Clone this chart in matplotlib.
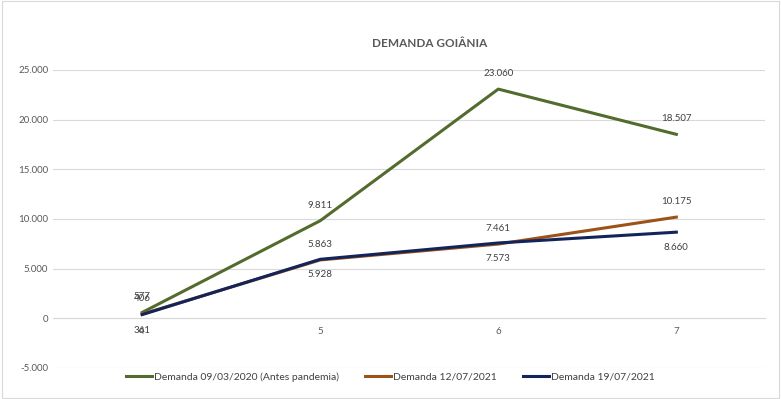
import matplotlib.pyplot as plt

plt.rcParams['font.family'] = ['Lato', 'DejaVu Sans']

categorias = ["4", "5", "6", "7"]
antes_pandemia = [577, 9811, 23060, 18507]
demanda_12_07 = [406, 5863, 7461, 10175]
demanda_19_07 = [361, 5928, 7573, 8660]

cor_verde = "#536B2C"
cor_laranja = "#9C5318"
cor_azul = "#13245A"
cinza = "#595959"


def fmt(v):
    return f"{v:,}".replace(",", ".")


fig = plt.figure(figsize=(7.81, 3.99), dpi=100)
ax = fig.add_axes([0.068, 0.078, 0.912, 0.747])

x = list(range(len(categorias)))
ax.plot(x, antes_pandemia, color=cor_verde, lw=2.2, label="Demanda 09/03/2020 (Antes pandemia)")
ax.plot(x, demanda_12_07, color=cor_laranja, lw=2.2, label="Demanda 12/07/2021")
ax.plot(x, demanda_19_07, color=cor_azul, lw=2.2, label="Demanda 19/07/2021")

# rótulos de dados
for i in x:
    ax.annotate(fmt(antes_pandemia[i]), (i, antes_pandemia[i]), xytext=(0, 8),
                textcoords="offset points", ha="center", va="bottom", fontsize=7, color="#404040")
    ax.annotate(fmt(demanda_12_07[i]), (i, demanda_12_07[i]), xytext=(0, 8),
                textcoords="offset points", ha="center", va="bottom", fontsize=7, color="#404040")
    ax.annotate(fmt(demanda_19_07[i]), (i, demanda_19_07[i]), xytext=(0, -8),
                textcoords="offset points", ha="center", va="top", fontsize=7, color="#404040")

ax.set_xlim(-0.5, 3.5)
ax.set_ylim(-5000, 25000)
ax.set_yticks(range(-5000, 25001, 5000))
ax.set_yticklabels([fmt(v) for v in range(-5000, 25001, 5000)])
ax.set_xticks(x)
ax.set_xticklabels(categorias)
ax.grid(axis="y", color="#D9D9D9", lw=0.8)
ax.set_axisbelow(True)

for s in ["top", "right", "left"]:
    ax.spines[s].set_visible(False)
ax.spines["bottom"].set_position(("data", 0))
ax.spines["bottom"].set_color("#D9D9D9")
ax.tick_params(axis="both", length=0, labelsize=7, colors=cinza)
ax.tick_params(axis="x", pad=6)

fig.text(0.55, 0.89, "DEMANDA GOIÂNIA", ha="center", va="center",
         fontsize=8.5, fontweight="bold", color=cinza)

fig.legend(loc="center", bbox_to_anchor=(0.5, 0.055), ncol=3, frameon=False,
           fontsize=7.5, handlelength=2.5, handletextpad=0.2, columnspacing=2.5,
           labelcolor="#404040")

fig.patches.append(plt.Rectangle((0.002, 0.003), 0.996, 0.994, transform=fig.transFigure,
                                 fill=False, edgecolor="#D9D9D9", lw=0.8))

fig.savefig("out.png", dpi=100)
